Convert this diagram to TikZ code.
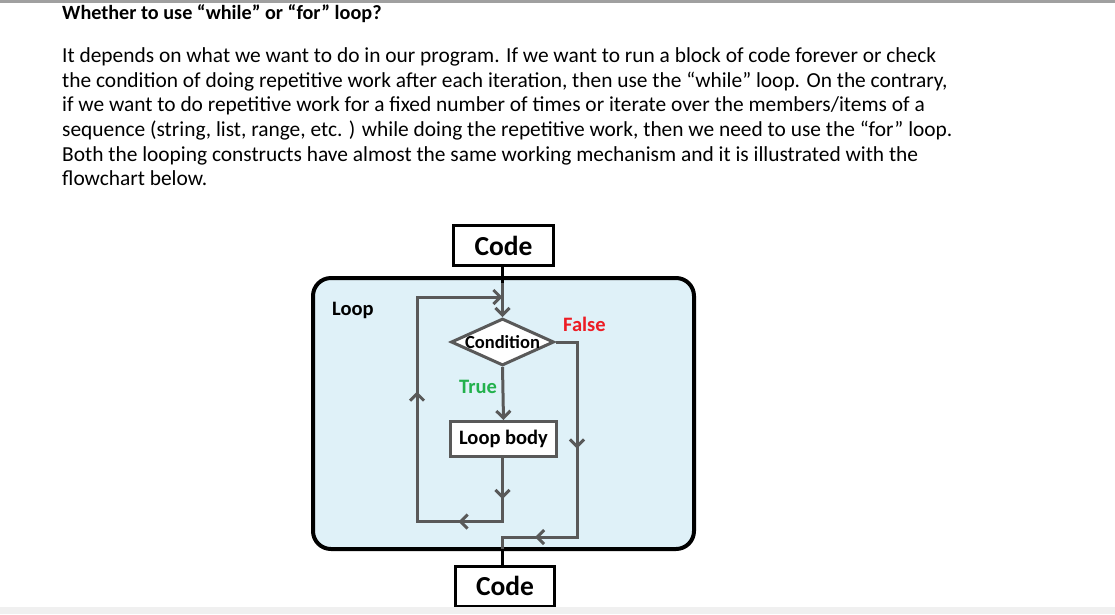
\documentclass[tikz,border=0pt]{standalone}
\usepackage{fontspec}
\setmainfont{Carlito}
\usetikzlibrary{shapes.geometric,arrows.meta,decorations.markings}

\definecolor{linegray}{RGB}{89,89,89}
\definecolor{loopfill}{RGB}{223,241,248}
\definecolor{falsered}{RGB}{237,28,36}
\definecolor{truegreen}{RGB}{34,177,76}
\definecolor{rulegray}{RGB}{160,160,160}
\definecolor{bandgray}{RGB}{240,240,240}

\tikzset{
  barb/.tip={Straight Barb[length=7pt,width=14pt]},
  para/.style={anchor=base west,inner sep=0pt,font=\fontsize{21.4}{24.7}\selectfont},
  codebox/.style={draw=black,line width=3pt,fill=white,minimum width=100pt,minimum height=40pt,
    inner sep=0pt,font=\fontsize{27.5}{30}\selectfont\bfseries},
  bodybox/.style={draw=linegray,line width=3pt,fill=white,minimum width=106pt,minimum height=35pt,
    inner sep=0pt,font=\fontsize{20.5}{24}\selectfont\bfseries},
  decision/.style={diamond,draw=linegray,line width=3pt,fill=white,inner sep=0pt,aspect=2.1,
    minimum width=103pt,minimum height=47pt,font=\fontsize{18.5}{22}\selectfont\bfseries},
  tag/.style={anchor=base west,inner sep=0pt,font=\fontsize{20.5}{24}\selectfont\bfseries},
  flow/.style={draw=linegray,line width=3pt,line join=miter},
  marks/.style={postaction={decorate},decoration={markings,#1}},
}

\begin{document}
\begin{tikzpicture}[x=1pt,y=-1pt]
\useasboundingbox (0,0) rectangle (1115,614);
\fill[white] (0,0) rectangle (1115,614);
\fill[rulegray] (0,0) rectangle (1115,2.5);

% heading and paragraph
\node[para,font=\fontsize{20.2}{24.7}\selectfont\bfseries] (title) at (62,19.5)
  {Whether to use “while” or “for” loop?};
\node[para] (p1) at (62,62.3) {It depends on what we want to do in our program. If we want to run a block of code forever or check};
\node[para] (p2) at (62,87.0) {the condition of doing repetitive work after each iteration, then use the “while” loop. On the contrary,};
\node[para] (p3) at (62,111.7) {if we want to do repetitive work for a fixed number of times or iterate over the members/items of a};
\node[para] (p4) at (62,136.4) {sequence (string, list, range, etc. ) while doing the repetitive work, then we need to use the “for” loop.};
\node[para] (p5) at (62,161.1) {Both the looping constructs have almost the same working mechanism and it is illustrated with the};
\node[para] (p6) at (62,185.8) {flowchart below.};

% loop region
\node[draw=black,line width=4pt,fill=loopfill,rounded corners=18pt,inner sep=0pt,
  minimum width=381pt,minimum height=271pt] (loop) at (503.5,413.5) {};
\node[tag] (looplabel) at (332,315) {Loop};

% flowchart nodes
\node[codebox] (code1) at (503.5,245.5) {Code};
\node[decision] (cond) at (502.5,342) {\makebox[0pt]{Condition}};
\node[bodybox] (body) at (503.5,439) {Loop body};
\node[codebox,minimum width=99pt] (code2) at (505,586) {Code};

\node[tag,text=truegreen] (truelabel) at (459,393) {True};
\node[tag,text=falsered] (falselabel) at (563,331) {False};

% junction points
\coordinate (in0) at (502.5,283);
\coordinate (lb1) at (502.5,521.5);
\coordinate (lb2) at (417,521.5);
\coordinate (lb3) at (417,297);
\coordinate (lb4) at (502.5,297);
\coordinate (f1) at (577,342);
\coordinate (f2) at (577,537);
\coordinate (f3) at (502.5,537);
\coordinate (f4) at (502.5,549);

% entry into the loop
\draw[black,line width=3pt] (code1.south -| in0) -- (in0);
\draw[flow,-barb] (in0) -- (cond.north);

% true branch
\draw[flow,-barb] (cond.south) -- (body.north);

% back edge from the loop body to the condition
\draw[flow,-barb,marks={mark=at position 41pt with {\arrow{barb}},
    mark=at position 107.5pt with {\arrow{barb}},
    mark=at position 279pt with {\arrow{barb}}}]
  (body.south -| lb1) -- (lb1) -- (lb2) -- (lb3) -- (lb4);

% false branch leaving the loop
\draw[flow,marks={mark=at position 128pt with {\arrow{barb}},
    mark=at position 258.5pt with {\arrow{barb}}}]
  (cond.east) -- (f1) -- (f2) -- (f3) -- (f4);
\draw[black,line width=3pt] (f4) -- (code2.north -| f4);

\fill[bandgray] (0,607) rectangle (1115,614);
\end{tikzpicture}
\end{document}
